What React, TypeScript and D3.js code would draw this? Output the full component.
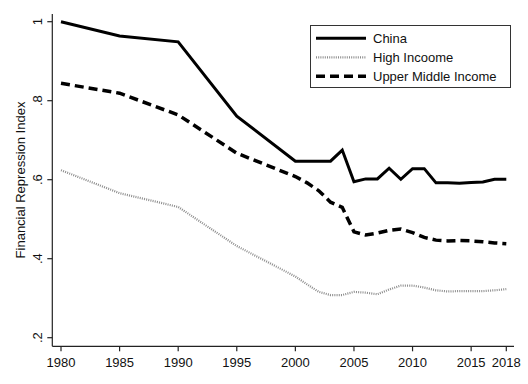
import React from "react";
import * as d3 from "d3";

const years = [1980, 1985, 1990, 1995, 2000, 2001, 2002, 2003, 2004, 2005, 2006, 2007, 2008, 2009, 2010, 2011, 2012, 2013, 2014, 2015, 2016, 2017, 2018];
const china = [1.0, 0.964, 0.949, 0.761, 0.647, 0.647, 0.647, 0.647, 0.675, 0.595, 0.602, 0.602, 0.629, 0.601, 0.628, 0.628, 0.592, 0.592, 0.591, 0.593, 0.594, 0.601, 0.601];
const highIncome = [0.624, 0.566, 0.531, 0.432, 0.355, 0.335, 0.316, 0.308, 0.308, 0.316, 0.314, 0.310, 0.322, 0.332, 0.332, 0.327, 0.320, 0.317, 0.318, 0.318, 0.318, 0.320, 0.323];
const upperMiddle = [0.844, 0.819, 0.764, 0.667, 0.608, 0.592, 0.572, 0.543, 0.530, 0.468, 0.460, 0.465, 0.472, 0.475, 0.466, 0.454, 0.447, 0.445, 0.446, 0.445, 0.443, 0.440, 0.438];
const xTicks = [1980, 1985, 1990, 1995, 2000, 2005, 2010, 2015, 2018];
const yTicks = [0.2, 0.4, 0.6, 0.8, 1];
const yTickLabels = [".2", ".4", ".6", ".8", "1"];
const seriesNames = ["China", "High Incoome", "Upper Middle Income"];

const FONT = "'Liberation Sans', Arial, sans-serif";

export default function App() {
  const W = 528, H = 384;
  const x = d3.scaleLinear().domain([1980, 2018]).range([61, 506.3]);
  const y = d3.scaleLinear().domain([0.2, 1]).range([337.7, 21.7]);
  const axisX = 52.3;
  const axisY = 346.3;

  const mk = (vals: number[]) =>
    d3.line<number>().x((_, i) => x(years[i])).y((v) => y(v))(vals) || "";

  const styles = [
    { stroke: "#000", width: 3, dash: undefined as string | undefined },
    { stroke: "#8c8c8c", width: 2.2, dash: "1,1.2" },
    { stroke: "#000", width: 3.5, dash: "9,5" },
  ];
  const data = [china, highIncome, upperMiddle];

  return (
    <svg width={W} height={H} style={{ position: "absolute", left: 0, top: 0, background: "#fff" }}>
      <rect x={0} y={0} width={W} height={H} fill="#fff" />
      {/* axes */}
      <line x1={axisX} y1={14} x2={axisX} y2={axisY} stroke="#222" strokeWidth={1.2} />
      <line x1={axisX} y1={axisY} x2={514} y2={axisY} stroke="#222" strokeWidth={1.2} />
      {yTicks.map((t, i) => (
        <g key={"y" + i}>
          <line x1={axisX - 5} x2={axisX} y1={y(t)} y2={y(t)} stroke="#222" strokeWidth={1.2} />
          <text
            transform={`translate(42,${y(t)}) rotate(-90)`}
            textAnchor="middle"
            fontFamily={FONT}
            fontSize={13}
            fill="#111"
          >
            {yTickLabels[i]}
          </text>
        </g>
      ))}
      {xTicks.map((t) => (
        <g key={"x" + t}>
          <line x1={x(t)} x2={x(t)} y1={axisY} y2={axisY + 5} stroke="#222" strokeWidth={1.2} />
          <text x={x(t)} y={367} textAnchor="middle" fontFamily={FONT} fontSize={13} fill="#111">
            {t}
          </text>
        </g>
      ))}
      <text
        transform={`translate(25,180) rotate(-90)`}
        textAnchor="middle"
        fontFamily={FONT}
        fontSize={13}
        fill="#111"
      >
        Financial Repression Index
      </text>
      {/* series */}
      {data.map((d, i) => (
        <path
          key={"s" + i}
          d={mk(d)}
          fill="none"
          stroke={styles[i].stroke}
          strokeWidth={styles[i].width}
          strokeDasharray={styles[i].dash}
          strokeLinejoin="miter"
        />
      ))}
      {/* legend */}
      <rect x={310.5} y={25.5} width={200} height={62} fill="#fff" stroke="#333" strokeWidth={1} />
      {seriesNames.map((n, i) => (
        <g key={"l" + i}>
          <line
            x1={316}
            x2={366}
            y1={38.3 + i * 19}
            y2={38.3 + i * 19}
            stroke={styles[i].stroke}
            strokeWidth={styles[i].width}
            strokeDasharray={styles[i].dash}
          />
          <text x={373} y={38.3 + i * 19 + 4.7} fontFamily={FONT} fontSize={13} fill="#111">
            {n}
          </text>
        </g>
      ))}
    </svg>
  );
}
